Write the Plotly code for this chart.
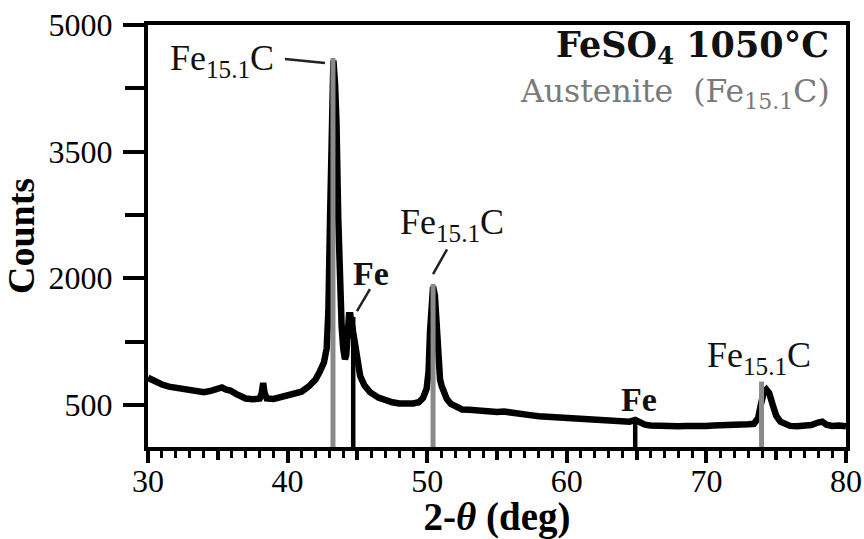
import plotly.graph_objects as go

# ---- data ----
two_theta = [30.0, 30.3, 30.6, 31.0, 31.5, 32.0, 32.5, 33.0, 33.5, 34.0, 34.5, 35.0, 35.3, 35.6,
             35.9, 36.3, 36.6, 37.0, 37.5, 38.0, 38.15, 38.25, 38.35, 38.5, 39.0, 39.5, 40.0,
             40.5, 41.0, 41.5, 42.0, 42.3, 42.6, 42.8, 42.92, 43.04, 43.15, 43.28, 43.4, 43.5,
             43.63, 43.75, 43.87, 43.99, 44.11, 44.2, 44.3, 44.4, 44.5, 44.6, 44.75, 44.95,
             45.2, 45.5, 45.9, 46.5, 47.0, 47.5, 48.0, 48.5, 49.0, 49.4, 49.7, 49.96, 50.1,
             50.2, 50.3, 50.42, 50.55, 50.68, 50.8, 50.92, 51.03, 51.2, 51.4, 51.7, 52.0, 52.5,
             53.0, 53.5, 54.0, 54.5, 55.0, 55.5, 56.0, 56.5, 57.0, 57.5, 58.0, 58.5, 59.0,
             59.5, 60.0, 60.5, 61.0, 61.5, 62.0, 62.5, 63.0, 63.5, 64.0, 64.5, 64.9, 65.2,
             65.6, 66.0, 66.5, 67.0, 67.5, 68.0, 68.5, 69.0, 69.5, 70.0, 70.5, 71.0, 71.5,
             72.0, 72.5, 73.0, 73.4, 73.7, 73.9, 74.1, 74.3, 74.5, 74.75, 75.0, 75.3, 75.7,
             76.0, 76.5, 77.0, 77.5, 78.0, 78.3, 78.6, 79.0, 79.5, 80.0]
counts = [820, 790, 760, 740, 715, 700, 690, 670, 655, 650, 665, 690, 705, 680,
          670, 630, 600, 575, 565, 575, 640, 760, 640, 575, 570, 590, 600,
          620, 655, 715, 800, 890, 1000, 1170, 1600, 2700, 3900, 4580, 4300, 3850,
          2700, 1900, 1430, 1160, 1040, 1090, 1400, 1560, 1560, 1450, 1280, 1050,
          840, 730, 650, 585, 550, 530, 515, 510, 515, 530, 580, 690, 900,
          1360, 1700, 1900, 1800, 1400, 960, 800, 725, 630, 570, 510, 480, 445,
          440, 430, 420, 410, 415, 420, 405, 395, 385, 375, 365, 360, 350,
          345, 340, 335, 330, 325, 320, 315, 310, 305, 300, 300, 320, 290,
          265, 255, 250, 245, 250, 245, 250, 245, 250, 250, 255, 255, 260,
          265, 265, 270, 275, 340, 500, 640, 680, 640, 500, 370, 300, 265,
          250, 245, 250, 260, 290, 300, 265, 250, 255, 245]

austenite_pos = [43.25, 50.42, 73.95]
austenite_top = [4610, 1930, 775]
fe_pos = [44.70, 64.90]
fe_top = [1540, 300]

x_labeled_ticks = [30, 40, 50, 60, 70, 80]
x_half_ticks = [35, 45, 55, 65, 75]
y_labeled_ticks = [500, 2000, 3500, 5000]


def sticks(pos, top):
    xs, ys = [], []
    for p, t in zip(pos, top):
        xs += [p, p, None]
        ys += [0, t, None]
    return xs, ys


SERIF = "Liberation Serif"

fig = go.Figure()
fig.add_trace(go.Scatter(x=two_theta, y=counts, mode="lines",
                         line=dict(color="black", width=6.5), hoverinfo="skip"))
ax, ay = sticks(austenite_pos, austenite_top)
fig.add_trace(go.Scatter(x=ax, y=ay, mode="lines",
                         line=dict(color="#8a8a8a", width=5), hoverinfo="skip"))
fx, fy = sticks(fe_pos, fe_top)
fig.add_trace(go.Scatter(x=fx, y=fy, mode="lines",
                         line=dict(color="black", width=4.5), hoverinfo="skip"))
# empty trace so the secondary tick axis is drawn
fig.add_trace(go.Scatter(x=[], y=[], xaxis="x2", hoverinfo="skip"))

lbl = dict(family=SERIF, size=36, color="#111")
bold_lbl = dict(family=SERIF, size=34, color="#111")
annotations = [
    dict(x=31.4, y=4574, xanchor="left", yanchor="middle",
         text="Fe<sub>15.1</sub>C", font=lbl),
    dict(x=46.0, y=2060, xanchor="center", yanchor="middle",
         text="<b>Fe</b>", font=bold_lbl),
    dict(x=51.8, y=2638, xanchor="center", yanchor="middle",
         text="Fe<sub>15.1</sub>C", font=lbl),
    dict(x=65.15, y=560, xanchor="center", yanchor="middle",
         text="<b>Fe</b>", font=bold_lbl),
    dict(x=73.75, y=1055, xanchor="center", yanchor="middle",
         text="Fe<sub>15.1</sub>C", font=lbl),
    dict(x=78.95, y=4740, xanchor="right", yanchor="middle",
         text="<b>FeSO<sub>4</sub> 1050°C</b>",
         font=dict(family="DejaVu Serif", size=35, color="#111")),
    dict(x=78.97, y=4190, xanchor="right", yanchor="middle",
         text="Austenite&nbsp;&nbsp;(Fe<sub>15.1</sub>C)",
         font=dict(family="DejaVu Serif", size=31.5, color="#7a7a7a")),
]
for a in annotations:
    a.update(xref="x", yref="y", showarrow=False)

leader = dict(color="#222", width=2.5)
shapes = [
    dict(type="line", xref="x", yref="y", x0=39.81, y0=4598, x1=42.68, y1=4551, line=leader),
    dict(type="line", xref="x", yref="y", x0=45.90, y0=1870, x1=44.97, y1=1610, line=leader),
    dict(type="line", xref="x", yref="y", x0=51.42, y0=2342, x1=50.42, y1=2047, line=leader),
]

fig.update_layout(
    width=864, height=539,
    margin=dict(l=148, r=18, t=25, b=92),
    paper_bgcolor="white", plot_bgcolor="white",
    showlegend=False,
    annotations=annotations,
    shapes=shapes,
    font=dict(family=SERIF, color="black"),
    xaxis2=dict(overlaying="x", matches="x", range=[30, 80], side="bottom",
                tickvals=x_half_ticks, showticklabels=False,
                ticks="outside", ticklen=12, tickwidth=4, tickcolor="black",
                showline=False, showgrid=False, zeroline=False),
)
fig.layout.xaxis.update(
    range=[30, 80], tickvals=x_labeled_ticks,
    ticks="outside", ticklen=12, tickwidth=4, tickcolor="black",
    minor=dict(dtick=1, tick0=30, ticks="outside", ticklen=7, tickwidth=3, tickcolor="black"),
    showline=True, linewidth=4, linecolor="black", mirror=True,
    showgrid=False, zeroline=False, automargin=False,
    tickfont=dict(family=SERIF, size=32, color="black"),
    ticklabelstandoff=-9,
    title=dict(text="<b>2-<i>θ</i> (deg)</b>", font=dict(family=SERIF, size=39, color="black"),
               standoff=0),
)
fig.update_yaxes(
    range=[0, 5000], tickvals=y_labeled_ticks,
    ticks="outside", ticklen=21, tickwidth=4, tickcolor="black",
    minor=dict(dtick=750, tick0=500, ticks="outside", ticklen=19, tickwidth=4, tickcolor="black"),
    showline=True, linewidth=4, linecolor="black", mirror=True,
    showgrid=False, zeroline=False, automargin=False,
    tickfont=dict(family=SERIF, size=32, color="black"),
    ticklabelstandoff=4,
    title=dict(text="<b>Counts</b>", font=dict(family=SERIF, size=38, color="black"),
               standoff=6),
)

fig.write_html("out.html", config={"displayModeBar": False},
               post_script="document.body.style.margin='0px';document.body.style.overflow='hidden';")
